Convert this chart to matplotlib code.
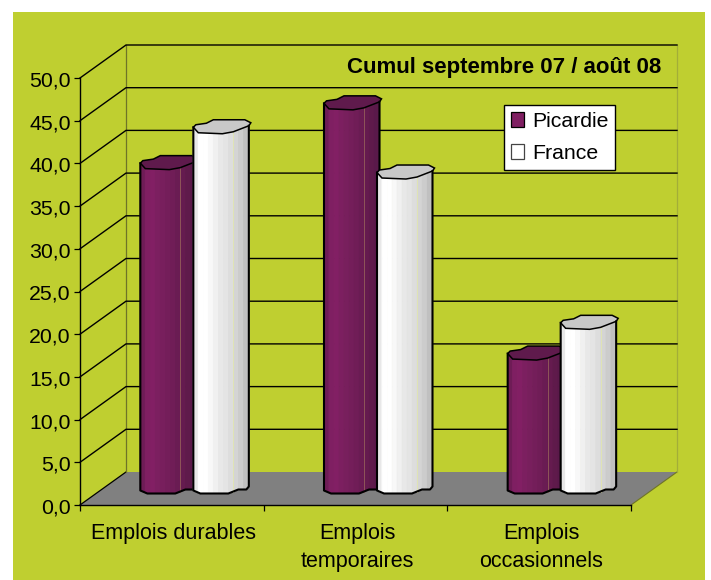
import numpy as np
import matplotlib
matplotlib.use("Agg")
import matplotlib.pyplot as plt
from matplotlib.patches import Rectangle, Polygon, Patch
from matplotlib.transforms import ScaledTranslation

plt.rcParams['font.family'] = ['Liberation Sans', 'DejaVu Sans']

# ---- data ----
categories = ["Emplois durables", "Emplois\ntemporaires", "Emplois\noccasionnels"]
picardie = [38.1, 45.1, 15.8]
france = [42.3, 37.0, 19.4]
series_names = ["Picardie", "France"]
y_ticks = [0, 5, 10, 15, 20, 25, 30, 35, 40, 45, 50]
chart_title = "Cumul septembre 07 / août 08"

W, H = 711, 580
GREEN = '#BFCF30'
OLIVE = '#6F7428'
fig = plt.figure(figsize=(W / 100, H / 100), dpi=100, facecolor='white')
fig.add_artist(Rectangle((13 / W, 0), (705 - 13) / W, (580 - 12) / H,
                         transform=fig.transFigure, facecolor=GREEN, edgecolor='none', zorder=-5))

L, R, B, T = 80, 631, 505, 78
ax = fig.add_axes([L / W, 1 - B / H, (R - L) / W, (B - T) / H])
ax.patch.set_alpha(0)
ax.set_xlim(0, 3)
ax.set_ylim(0, 50)

sx = 3 / (R - L)            # data units per pixel
sy = 50 / (B - T)
dx, dy = 46 * sx, 33 * sy   # depth of the 3-D box

# floor
ax.add_patch(Polygon([(0, 0), (3, 0), (3 + dx, dy), (dx, dy)], closed=True, facecolor='#808080',
                     edgecolor='none', zorder=1, clip_on=False))
ax.plot([3, 3 + dx], [0, dy], color=OLIVE, lw=0.8, zorder=1.1, clip_on=False)
ax.plot([0, dx], [0, dy], color='black', lw=0.9, zorder=1.1, clip_on=False)

# walls
ax.plot([dx, dx], [dy, 50 + dy], color=OLIVE, lw=0.9, zorder=1.1, clip_on=False)
ax.plot([3 + dx, 3 + dx], [dy, 50 + dy], color='#A3AE38', lw=0.9, zorder=1.1, clip_on=False)
for v in y_ticks[1:]:
    ax.plot([0, dx, 3 + dx], [v, v + dy, v + dy], color='black', lw=1.0, zorder=1.2, clip_on=False,
            solid_joinstyle='miter')

# column cross-section, in pixels around the column centre (y down)
top_outline = np.array([(-28, 0), (-25.5, -2.5), (-15, -4), (-8, -7.5), (23.5, -7.5), (29.5, -4.5),
                        (27.5, -1.5), (12, 4.5), (1, 6.5), (-23, 5.5)], float)
front_top = np.array([(-28, 0), (-23, 5.5), (1, 6.5), (12, 4.5), (27.5, -1.5)], float)
front_bottom = np.array([(-28, 0), (-21, 3), (7, 3), (17, -1), (25, -1), (27.5, -4)], float)

purple_strips = ['#6E1C56', '#7F1F62', '#821F64', '#7C1F60', '#781F5D', '#741E5A', '#701D57', '#6A1C53',
                 '#651B4F', '#5F1A4B', '#5A194A']
white_strips = ['#E8E8E8', '#FFFFFF', '#FFFFFF', '#F8F8F8', '#F0F0F0', '#E8E8E8', '#E4E4E4', '#DDDDDD',
                '#D4D4D4', '#CCCCCC', '#C0C0C0']
purple_top = '#5F1A4C'
white_top = '#C8C8C8'


def column(cx_data, value, strips, top_color, z, line_color):
    base_v = dy / 2
    top_v = value + dy / 2
    base_px = 2.0 * sy
    xs = np.linspace(-28, 27.5, len(strips) + 1)
    for i, c in enumerate(strips):
        xx = np.linspace(xs[i], xs[i + 1], 5)
        t = top_v - np.interp(xx, front_top[:, 0], front_top[:, 1]) * sy
        b = base_v - base_px - np.interp(xx, front_bottom[:, 0], front_bottom[:, 1]) * sy
        poly = np.r_[np.c_[cx_data + xx * sx, t], np.c_[cx_data + xx[::-1] * sx, b[::-1]]]
        ax.add_patch(Polygon(poly, closed=True, facecolor=c, edgecolor=c, lw=0.8, zorder=z + 0.001 * i,
                             clip_on=False))
    # faint facet line
    fx = 12.0
    ax.plot([cx_data + fx * sx] * 2,
            [top_v - np.interp(fx, front_top[:, 0], front_top[:, 1]) * sy,
             base_v - base_px - np.interp(fx, front_bottom[:, 0], front_bottom[:, 1]) * sy],
            color=line_color, lw=0.6, zorder=z + 0.05, clip_on=False)
    # top cap
    ax.add_patch(Polygon(np.c_[cx_data + top_outline[:, 0] * sx, top_v - top_outline[:, 1] * sy], closed=True,
                         facecolor=top_color, edgecolor='black', lw=1.1, zorder=z + 0.1, clip_on=False))
    # outline of the body
    bx = front_bottom[:, 0]
    by = base_v - base_px - front_bottom[:, 1] * sy
    ox = np.r_[-28, bx, 27.5]
    oy = np.r_[top_v, by, top_v + 1.5 * sy]
    ax.plot(cx_data + ox * sx, oy, color='black', lw=1.5, zorder=z + 0.1, clip_on=False, solid_joinstyle='round')


depth_shift = dx / 2
half_gap = 26.5 * sx
for i, (p, f) in enumerate(zip(picardie, france)):
    cx = i + 0.5 + depth_shift
    column(cx - half_gap, p, purple_strips, purple_top, 3 + i, '#96605A')
    column(cx + half_gap, f, white_strips, white_top, 3.5 + i, '#E2E6B0')

# axes
for s in ('top', 'right'):
    ax.spines[s].set_visible(False)
for s in ('left', 'bottom'):
    ax.spines[s].set_linewidth(1.0)
    ax.spines[s].set_zorder(2)
ax.set_yticks(y_ticks)
ax.set_yticklabels([f"{v:.1f}".replace('.', ',') for v in y_ticks], fontsize=15.3, color='black')
ax.tick_params(axis='y', length=4.2, width=0.9, pad=2.5)
ax.set_xticks([0, 1, 2, 3])
ax.set_xticklabels([])
ax.tick_params(axis='x', which='major', length=4.5, width=0.9)
ax.set_xticks([0.5, 1.5, 2.5], minor=True)
ax.set_xticklabels(categories, minor=True, fontsize=15.5, linespacing=1.45, va='top')
ax.tick_params(axis='x', which='minor', length=0, pad=13)
for lab in ax.get_xticklabels(minor=True):
    lab.set_transform(lab.get_transform() + ScaledTranslation(2 / 100, 0, fig.dpi_scale_trans))
for lab in ax.get_yticklabels():
    lab.set_transform(lab.get_transform() + ScaledTranslation(0, -1 / 100, fig.dpi_scale_trans))

fig.text(504 / W, 1 - 67 / H, chart_title, fontsize=16, fontweight='bold', ha='center', va='center', color='black')

handles = [Patch(facecolor='#7F1F62', edgecolor='black', lw=0.9, label=series_names[0]),
           Patch(facecolor='white', edgecolor='#444444', lw=0.9, label=series_names[1])]
leg = ax.legend(handles=handles, loc='upper left', bbox_to_anchor=(504 / W, 1 - 105 / H),
                bbox_transform=fig.transFigure, borderaxespad=0, fontsize=15.3, fancybox=False,
                edgecolor='black', framealpha=1, handlelength=0.62, handleheight=0.7, handletextpad=0.36,
                labelspacing=0.6, borderpad=0.33)
leg.get_frame().set_linewidth(1.0)
leg.set_zorder(20)

fig.savefig("out.png", dpi=100, facecolor='white')
